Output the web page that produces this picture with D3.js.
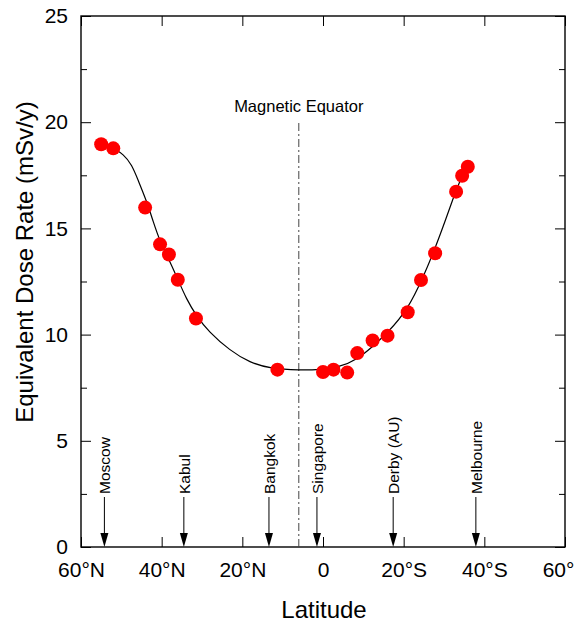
<!DOCTYPE html>
<html>
<head>
<meta charset="utf-8">
<script src="https://cdn.jsdelivr.net/npm/d3@7"></script>
<style>
  html, body { margin: 0; padding: 0; background: #fff; }
  svg { display: block; font-family: "Liberation Sans", Arial, Helvetica, sans-serif; }
</style>
</head>
<body>
<svg id="chart" width="575" height="623"></svg>
<script>
// Measured dose rates (latitude in degrees: negative = north, positive = south)
const pointLat  = [-55.0, -52.0, -44.1, -40.4, -38.2, -36.0, -31.5, -11.3, 0.0, 2.6, 6.0, 8.5, 12.3, 16.0, 21.0, 24.3, 27.8, 33.0, 34.5, 35.9];
const pointDose = [18.96, 18.77, 15.98, 14.25, 13.77, 12.58, 10.76, 8.35, 8.24, 8.35, 8.21, 9.13, 9.72, 9.95, 11.05, 12.57, 13.83, 16.73, 17.48, 17.9];

// Fitted trend curve
const fitLat  = [-52.0, -49.5, -47.4, -45.8, -43.7, -42.1, -40.4, -38.35, -36.3, -33.8, -31.3, -28.4, -23.1, -18.1, -13.1, -5.7, -0.7, 4.2, 8.4, 12.2, 16.0, 21.1, 24.9, 27.35, 30.7, 32.7, 34.0, 35.2, 36.0];
const fitDose = [18.77, 18.5, 18.0, 17.25, 16.27, 15.32, 14.38, 13.6, 12.74, 11.64, 10.86, 10.15, 9.25, 8.68, 8.4, 8.32, 8.35, 8.48, 8.82, 9.42, 10.08, 11.2, 12.74, 13.84, 15.56, 16.66, 17.25, 17.76, 18.05];

// Reference cities marked with arrows along the latitude axis
const cityNames = ["Moscow", "Kabul", "Bangkok", "Singapore", "Derby (AU)", "Melbourne"];
const cityLat   = [-54.2, -34.5, -13.4, -1.5, 17.4, 37.9];

// Magnetic equator position
const magEquatorLat = -6;
const magEquatorLabel = "Magnetic Equator";

// Axis ticks
const xTickValues = [-60, -40, -20, 0, 20, 40, 60];
const xTickLabels = ["60°N", "40°N", "20°N", "0", "20°S", "40°S", "60°S"];
const yMajorTicks = [0, 5, 10, 15, 20, 25];
const yMinorTicks = [2.5, 7.5, 12.5, 17.5, 22.5];

const xTitle = "Latitude";
const yTitle = "Equivalent Dose Rate (mSv/y)";

const svg = d3.select("#chart");
const L = 81, R = 565, T = 16, B = 547;

const x = d3.scaleLinear().domain([-60, 60]).range([L, R]);
const y = d3.scaleLinear().domain([0, 25]).range([B, T]);

const tickFont = "21px";

// Bottom axis with labels
const gx = svg.append("g").attr("transform", `translate(0,${B})`)
  .call(d3.axisBottom(x).tickValues(xTickValues).tickSize(-10).tickPadding(15)
        .tickFormat((d, i) => xTickLabels[i]));
// Top axis, ticks only
const gxt = svg.append("g").attr("transform", `translate(0,${T})`)
  .call(d3.axisTop(x).tickValues(xTickValues).tickSize(-10).tickFormat(""));
// Left axis with labels plus minor ticks
const gy = svg.append("g").attr("transform", `translate(${L},0)`)
  .call(d3.axisLeft(y).tickValues(yMajorTicks).tickSize(-10).tickPadding(13).tickFormat(d3.format("d")));
const gym = svg.append("g").attr("transform", `translate(${L},0)`)
  .call(d3.axisLeft(y).tickValues(yMinorTicks).tickSize(-6).tickFormat(""));
// Right axis, ticks only
const gyr = svg.append("g").attr("transform", `translate(${R},0)`)
  .call(d3.axisRight(y).tickValues(yMajorTicks).tickSize(-10).tickFormat(""));
const gyrm = svg.append("g").attr("transform", `translate(${R},0)`)
  .call(d3.axisRight(y).tickValues(yMinorTicks).tickSize(-6).tickFormat(""));

[gx, gxt, gy, gym, gyr, gyrm].forEach(g => {
  g.select(".domain").remove();
  g.selectAll(".tick line").attr("stroke", "#000").attr("stroke-width", 1);
  g.selectAll(".tick text").attr("fill", "#000").style("font-size", tickFont)
    .style("font-family", '"Liberation Sans", Arial, sans-serif');
});

// Frame
svg.append("rect")
  .attr("x", L).attr("y", T).attr("width", R - L).attr("height", B - T)
  .attr("fill", "none").attr("stroke", "#000").attr("stroke-width", 1.4);

// Magnetic equator line
svg.append("line")
  .attr("x1", x(magEquatorLat)).attr("x2", x(magEquatorLat))
  .attr("y1", 123).attr("y2", B)
  .attr("stroke", "#444").attr("stroke-width", 1)
  .attr("stroke-dasharray", "8,3,2,3");
svg.append("text")
  .attr("x", x(magEquatorLat)).attr("y", 111.5)
  .attr("text-anchor", "middle").style("font-size", "16.5px")
  .text(magEquatorLabel);

// City arrows
const cities = cityNames.map((n, i) => ({ name: n, lat: cityLat[i] }));
const cg = svg.append("g").selectAll("g").data(cities).join("g")
  .attr("transform", d => `translate(${x(d.lat)},0)`);
cg.append("line").attr("x1", 0).attr("x2", 0).attr("y1", 497).attr("y2", 536)
  .attr("stroke", "#000").attr("stroke-width", 1);
cg.append("path").attr("d", `M-4,${533}L4,${533}L0,${B}Z`).attr("fill", "#000");
cg.append("text")
  .attr("transform", "translate(5.8,494) rotate(-90)")
  .style("font-size", "15.5px")
  .text(d => d.name);

// Fitted curve
const fit = fitLat.map((v, i) => [v, fitDose[i]]);
svg.append("path").datum(fit)
  .attr("d", d3.line().x(d => x(d[0])).y(d => y(d[1])).curve(d3.curveBasis))
  .attr("fill", "none").attr("stroke", "#000").attr("stroke-width", 1.2);

// Data points
const pts = pointLat.map((v, i) => [v, pointDose[i]]);
svg.append("g").selectAll("circle").data(pts).join("circle")
  .attr("cx", d => x(d[0])).attr("cy", d => y(d[1])).attr("r", 7)
  .attr("fill", "#ff0000");

// Axis titles
svg.append("text")
  .attr("x", (L + R) / 2 + 1).attr("y", 618)
  .attr("text-anchor", "middle").style("font-size", "24px")
  .text(xTitle);
svg.append("text")
  .attr("transform", "translate(32.5,262) rotate(-90)")
  .attr("text-anchor", "middle").style("font-size", "24px")
  .text(yTitle);
</script>
</body>
</html>
